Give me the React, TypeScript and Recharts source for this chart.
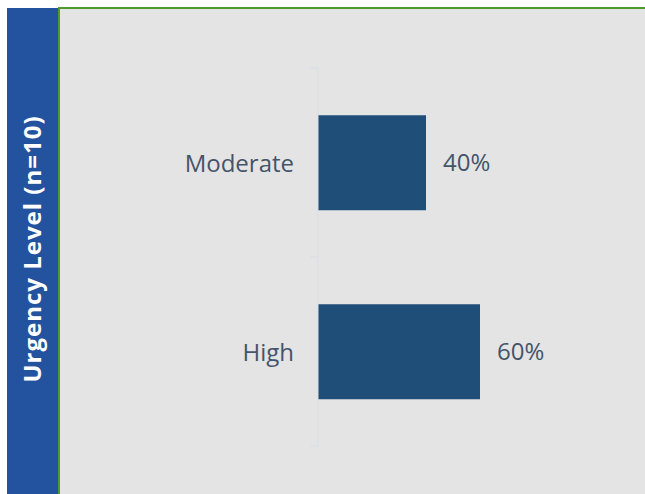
import React from 'react';
import { BarChart, Bar, XAxis, YAxis, LabelList } from 'recharts';

const categories = ['Moderate', 'High'];
const shares = [40, 60];
const axisTitle = 'Urgency Level (n=10)';

const data = categories.map((name, i) => ({ name, value: shares[i] }));

const FONT = '"Open Sans", "Noto Sans", sans-serif';
const TEXT_COLOR = '#44546a';
const AXIS_COLOR = '#d8dde6';

const CategoryTick = (props: any) => {
  const { x, y, payload, index } = props;
  const half = payload.offset || 0;
  return (
    <g>
      <line x1={x} x2={x + 8} y1={y - half} y2={y - half} stroke={AXIS_COLOR} />
      {index === categories.length - 1 && (
        <line x1={x} x2={x + 8} y1={y + half} y2={y + half} stroke={AXIS_COLOR} />
      )}
      <text x={x - 16} y={y} dy={9} textAnchor="end" fill={TEXT_COLOR} fontSize={24} fontFamily={FONT}>
        {payload.value}
      </text>
    </g>
  );
};

const App: React.FC = () => (
  <div style={{ position: 'absolute', left: 0, top: 0, width: 645, height: 494, background: '#fff' }}>
    <div style={{ position: 'absolute', left: 7, top: 8, width: 51, height: 486, background: '#23529e' }}>
      <svg width={51} height={486}>
        <text
          transform="translate(34, 241) rotate(-90)"
          textAnchor="middle"
          fill="#fff"
          fontSize={24}
          fontWeight="bold"
          letterSpacing={1}
          fontFamily={FONT}
        >
          {axisTitle}
        </text>
      </svg>
    </div>
    <div
      style={{
        position: 'absolute',
        left: 58,
        top: 7,
        width: 587,
        height: 487,
        background: '#e4e4e4',
        borderTop: '2px solid #4e9a2a',
        borderLeft: '2px solid #4e9a2a',
        boxSizing: 'border-box',
      }}
    />
    <div style={{ position: 'absolute', left: 0, top: 0 }}>
      <BarChart
        width={645}
        height={494}
        data={data}
        layout="vertical"
        barCategoryGap="25%"
        margin={{ top: 68, right: 57, bottom: 48, left: 0 }}
      >
        <XAxis type="number" dataKey="value" domain={[0, 100]} hide />
        <YAxis
          type="category"
          dataKey="name"
          width={318}
          axisLine={{ stroke: AXIS_COLOR }}
          tickLine={false}
          tick={<CategoryTick />}
          interval={0}
        />
        <Bar dataKey="value" fill="#1f4e79" isAnimationActive={false}>
          <LabelList
            dataKey="value"
            position="right"
            offset={17}
            formatter={(v: any) => `${v}%`}
            fill={TEXT_COLOR}
            fontSize={24}
            fontFamily={FONT}
          />
        </Bar>
      </BarChart>
    </div>
  </div>
);

export default App;
